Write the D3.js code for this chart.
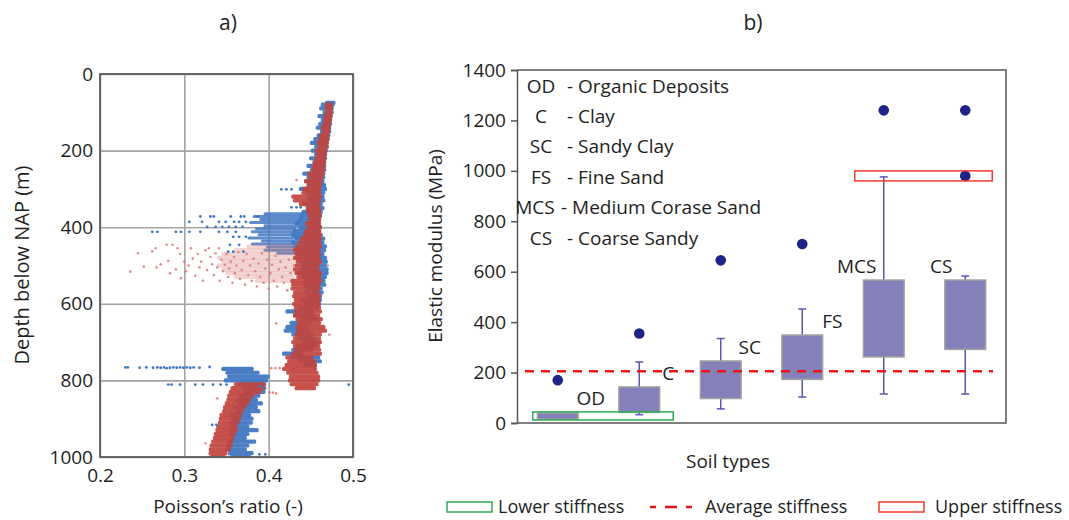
<!DOCTYPE html>
<html><head><meta charset="utf-8">
<script src="https://cdn.jsdelivr.net/npm/d3@7"></script>
<style>
body{margin:0;background:#fff;}
text{font-family:"Open Sans",sans-serif;fill:#1e1e1e;}
</style>
</head><body>
<svg id="chart" width="1069" height="520"></svg>
<script>
// ---------- a) Poisson's ratio profile ----------
const poissonTicks = [0.2, 0.3, 0.4, 0.5];
const depthTicks = [0, 200, 400, 600, 800, 1000];

// dense bands: [depth (m), min ratio, max ratio]
const blueUpper = [[75,.468,.478],[80,.463,.477],[90,.461,.476],[100,.465,.476],[110,.459,.475],[120,.463,.474],[130,.460,.474],[140,.457,.473],[150,.462,.473],[160,.458,.472],[170,.454,.471],[180,.450,.470],[190,.455,.470],[200,.451,.469],[210,.455,.468],[220,.449,.468],[230,.453,.467],[240,.446,.467],[250,.450,.467],[260,.441,.466],[270,.446,.466],[280,.443,.465],[290,.447,.467],[300,.437,.468],[310,.444,.466],[320,.447,.465],[330,.446,.466],[340,.442,.463],[350,.446,.465],[360,.440,.463],[370,.438,.462],[380,.436,.461],[390,.432,.460],[400,.436,.462],[410,.430,.461],[420,.428,.463],[430,.432,.466],[440,.428,.465],[450,.430,.468],[460,.432,.467],[470,.434,.465],[480,.434,.468],[490,.437,.469],[500,.440,.468],[510,.438,.470],[520,.435,.470],[530,.440,.468],[540,.443,.466],[550,.442,.467],[560,.444,.463],[570,.442,.464],[580,.446,.462],[590,.438,.462],[600,.443,.461],[610,.436,.458],[620,.421,.452],[630,.430,.454],[640,.440,.457],[650,.426,.450],[660,.421,.446],[670,.419,.447],[680,.428,.452],[690,.436,.455],[700,.440,.459],[710,.434,.456],[720,.428,.452],[730,.417,.440],[740,.426,.460],[750,.436,.462],[760,.442,.456]];
const blueCloud = [[365,.395,.440],[372,.382,.440],[380,.390,.438],[388,.378,.436],[396,.395,.436],[404,.385,.432],[412,.380,.430],[420,.388,.430],[428,.376,.432],[436,.392,.430],[444,.380,.430],[452,.398,.432],[460,.395,.432],[468,.410,.434]];
const blueLower = [[770,.345,.381],[780,.350,.388],[790,.352,.400],[800,.348,.398],[810,.365,.396],[820,.369,.392],[830,.372,.395],[840,.366,.389],[850,.362,.386],[860,.364,.392],[870,.359,.386],[880,.362,.389],[890,.355,.378],[900,.357,.381],[910,.353,.380],[920,.356,.376],[930,.354,.387],[940,.353,.376],[950,.356,.373],[960,.352,.384],[970,.350,.376],[980,.349,.373],[990,.353,.381],[1000,.355,.378]];
const redUpper = [[80,.468,.475],[90,.467,.475],[100,.468,.475],[110,.466,.474],[120,.466,.474],[130,.465,.473],[140,.463,.472],[150,.464,.472],[160,.461,.471],[170,.460,.471],[180,.458,.470],[190,.459,.470],[200,.456,.468],[210,.457,.468],[220,.455,.467],[230,.454,.467],[240,.452,.466],[250,.452,.466],[260,.447,.465],[270,.448,.464],[280,.443,.463],[290,.446,.462],[300,.441,.461],[310,.440,.461],[320,.428,.462],[330,.430,.461],[340,.437,.460],[350,.445,.461],[360,.446,.461],[370,.447,.462],[380,.448,.461],[390,.444,.461],[400,.446,.462],[410,.443,.461],[420,.442,.462],[430,.438,.462],[440,.436,.461],[450,.433,.462],[460,.430,.460],[470,.432,.461],[480,.430,.460],[490,.433,.462],[500,.432,.460],[510,.430,.459],[520,.432,.462],[530,.434,.461],[540,.427,.462],[550,.428,.460],[560,.427,.460],[570,.430,.459],[580,.429,.461],[590,.431,.460],[600,.429,.460],[610,.431,.461],[620,.432,.462],[630,.430,.460],[640,.433,.463],[650,.435,.461],[660,.433,.466],[670,.434,.468],[680,.432,.462],[690,.430,.461],[700,.428,.462],[710,.430,.460],[720,.431,.461],[730,.428,.462],[740,.421,.452],[750,.423,.455],[760,.420,.456],[770,.417,.456],[780,.422,.458],[790,.425,.460],[800,.424,.460],[810,.426,.458],[820,.432,.455]];
const redLower = [[810,.360,.395],[820,.356,.396],[830,.354,.390],[840,.352,.382],[850,.351,.378],[860,.349,.376],[870,.347,.372],[880,.346,.369],[890,.343,.367],[900,.342,.366],[910,.341,.364],[920,.339,.362],[930,.338,.362],[940,.336,.360],[950,.335,.358],[960,.333,.357],[970,.331,.356],[980,.330,.354],[990,.330,.350],[1000,.331,.348]];
const redCloud = [[450,.375,.430],[460,.360,.432],[470,.345,.430],[480,.340,.432],[490,.345,.430],[500,.340,.432],[510,.345,.430],[520,.350,.432],[530,.360,.430],[540,.385,.428]];

// scattered readings: [ratio, depth (m)]
const blueDots = [[.415,301],[.421,301],[.427,301],[.427,348],[.433,348],[.438,348],
  [.319,372],[.331,372],[.335,372],[.355,372],[.367,372],[.371,372],[.387,372],
  [.306,386],[.321,386],[.341,386],[.349,386],[.359,386],[.365,386],[.373,386],
  [.327,399],[.337,399],[.345,399],[.353,399],[.361,399],[.369,399],
  [.262,412],[.268,412],[.290,412],[.296,412],[.306,412],[.319,412],[.341,412],[.351,412],[.361,412],
  [.358,425],[.365,425],[.373,425],[.354,446],[.365,446],[.352,464],[.358,464],[.370,464],
  [.230,766],[.233,766],[.247,767],[.255,766],[.263,767],[.268,766],[.272,767],[.276,766],[.279,768],[.283,767],[.287,766],[.291,767],[.295,766],[.299,767],[.303,766],[.307,767],[.311,766],[.318,767],[.330,765],
  [.281,811],[.285,811],[.295,811],[.313,811],[.322,811],[.334,811],[.343,811],[.350,811],[.495,811],
  [.389,993],[.396,993],[.333,916],[.338,916],[.390,815],[.395,820]];
const redDots = [[.433,277],[.403,768],[.408,768],[.413,768],[.401,832],[.405,832],[.409,834],[.409,651],[.472,681],[.339,847],[.325,964],[.470,500],
  [.236,516],[.245,468],[.252,503],[.262,463],[.266,455],[.267,505],[.272,497],[.279,446],[.281,488],[.283,520],[.286,446],[.290,510],[.292,455],[.295,470],[.296,533],[.300,490],[.302,515],[.305,500],[.308,455],[.310,482],[.313,527],[.316,470],[.318,505],[.320,490],[.322,540],[.325,460],[.327,512],[.329,455],[.331,478],[.333,497],[.335,525],[.337,468],[.339,505],[.341,455],[.342,540],[.344,485],[.346,515],[.348,498],[.350,470],[.352,530],[.353,508],[.355,490],[.357,545],[.359,478],[.360,520],[.362,500],[.364,465],[.366,535],[.368,512],[.370,488],[.372,550],[.374,470],[.376,525],[.378,500],[.380,540],[.382,482],[.384,515],[.386,555],[.388,495],[.390,530],[.392,468],[.394,545],[.396,508],[.398,485],[.400,560],[.402,520],[.404,498],[.406,540],[.408,475],[.410,555],[.412,510],[.414,490],[.416,530],[.418,545],[.420,505],[.422,565],[.424,485],[.426,520],[.428,550],[.430,500]];

// ---------- b) Elastic modulus by soil type ----------
const soilTypes = ["OD", "C", "SC", "FS", "MCS", "CS"];
const soilNames = ["Organic Deposits", "Clay", "Sandy Clay", "Fine Sand", "Medium Corase Sand", "Coarse Sandy"];
const q1 = [15, 42, 97, 173, 262, 292];
const q3 = [40, 143, 246, 349, 567, 567];
const whiskerLow = [15, 33, 56, 103, 115, 115];
const whiskerHigh = [40, 242, 335, 452, 976, 583];
const outliers = [[170], [355], [645], [710], [1240], [1240, 980]];
const modulusTicks = [0, 200, 400, 600, 800, 1000, 1200, 1400];
const lowerStiffness = [12, 44];
const averageStiffness = 205;
const upperStiffness = [960, 1000];

const svg = d3.select("#chart");
const BLUE = "#4177c2", RED = "#c2433e", PINK = "#d97b78";
const FS = 19;

// ===== Panel a =====
const xL = d3.scaleLinear().domain([0.2, 0.5]).range([100, 353]);
const yL = d3.scaleLinear().domain([0, 1000]).range([74, 457]);
const gA = svg.append("g");

gA.append("g").attr("transform", `translate(${xL(0.2)},0)`)
  .call(d3.axisLeft(yL).tickValues(depthTicks).tickSize(-(xL(0.5) - xL(0.2))).tickPadding(7).tickFormat(d3.format("d")))
  .call(g => g.select(".domain").remove())
  .call(g => g.selectAll("line").attr("stroke", "#a3a3a3").attr("stroke-width", 1.6))
  .call(g => g.selectAll("text").attr("font-size", FS).attr("font-family", "Open Sans").attr("fill", "#1e1e1e"));
gA.append("g").attr("transform", `translate(0,${yL(1000)})`)
  .call(d3.axisBottom(xL).tickValues(poissonTicks).tickSize(-(yL(1000) - yL(0))).tickPadding(12).tickFormat(d3.format(".1f")))
  .call(g => g.select(".domain").remove())
  .call(g => g.selectAll("line").attr("stroke", "#a3a3a3").attr("stroke-width", 1.6))
  .call(g => g.selectAll("text").attr("font-size", FS).attr("font-family", "Open Sans").attr("fill", "#1e1e1e"));

svg.append("clipPath").attr("id", "clipA").append("rect")
  .attr("x", xL(0.2)).attr("y", yL(0)).attr("width", xL(0.5) - xL(0.2)).attr("height", yL(1000) - yL(0));
const plotA = gA.append("g").attr("clip-path", "url(#clipA)");

function bandRows(rows, color, opacity, h) {
  plotA.append("g").selectAll("rect").data(rows).join("rect")
    .attr("x", d => xL(d[1]) - 1)
    .attr("width", d => xL(d[2]) - xL(d[1]) + 2)
    .attr("y", d => yL(d[0]) - h / 2)
    .attr("height", h)
    .attr("rx", 1.5)
    .attr("fill", color).attr("fill-opacity", opacity);
}
function dots(pts, color, r, opacity) {
  plotA.append("g").selectAll("circle").data(pts).join("circle")
    .attr("cx", d => xL(d[0])).attr("cy", d => yL(d[1])).attr("r", r)
    .attr("fill", color).attr("fill-opacity", opacity);
}
bandRows(blueUpper, BLUE, 0.95, 4.2);
bandRows(blueCloud, BLUE, 0.85, 3);
bandRows(blueLower, BLUE, 0.95, 4.2);
bandRows(redCloud, PINK, 0.33, 4.2);
dots(redDots, PINK, 1.3, 0.85);
bandRows(redUpper, RED, 0.92, 4.2);
bandRows(redLower, RED, 0.92, 4.2);
dots(blueDots, BLUE, 1.4, 1);

gA.append("rect").attr("x", xL(0.2)).attr("y", yL(0))
  .attr("width", xL(0.5) - xL(0.2)).attr("height", yL(1000) - yL(0))
  .attr("fill", "none").attr("stroke", "#5e5e5e").attr("stroke-width", 1.8);

svg.append("text").attr("x", 228).attr("y", 30).attr("text-anchor", "middle").attr("font-size", 21).text("a)");
svg.append("text").attr("x", 228).attr("y", 513).attr("text-anchor", "middle").attr("font-size", FS).text("Poisson’s ratio (-)");
svg.append("text").attr("transform", "translate(29,265) rotate(-90)").attr("text-anchor", "middle").attr("font-size", 20).text("Depth below NAP (m)");

// ===== Panel b =====
const yR = d3.scaleLinear().domain([0, 1400]).range([423, 70]);
const xR = d3.scaleBand().domain(soilTypes).range([517, 1006]).paddingInner(0.5).paddingOuter(0.25);
const bw = xR.bandwidth();
const cx = t => xR(t) + bw / 2;
const gB = svg.append("g");

gB.append("g").attr("transform", "translate(517,0)")
  .call(d3.axisLeft(yR).tickValues(modulusTicks).tickSize(6).tickPadding(5).tickFormat(d3.format("d")))
  .call(g => g.selectAll("line, path").attr("stroke", "#555").attr("stroke-width", 1.5))
  .call(g => g.selectAll("text").attr("font-size", FS).attr("font-family", "Open Sans").attr("fill", "#1e1e1e"));
gB.append("path").attr("d", `M517,${yR(1400)}H1006V${yR(0)}H517`)
  .attr("fill", "none").attr("stroke", "#555").attr("stroke-width", 1.5);

// soil type key
const key = gB.append("g");
soilTypes.forEach((t, i) => {
  const y = 86 + i * 30.4;
  const wide = t.length > 2;
  key.append("text").attr("x", wide ? 535 : 541).attr("y", y).attr("dy", "0.35em").attr("text-anchor", "middle").attr("font-size", FS).text(t);
  key.append("text").attr("x", wide ? 561 : 567).attr("y", y).attr("dy", "0.35em").attr("font-size", FS).text("- " + soilNames[i]);
});

// whiskers
const WHISK = "#5656b4";
soilTypes.forEach((t, i) => {
  const x = cx(t);
  const g = gB.append("g").attr("stroke", WHISK).attr("stroke-width", 1.5);
  if (whiskerHigh[i] > q3[i]) {
    g.append("line").attr("x1", x).attr("x2", x).attr("y1", yR(q3[i])).attr("y2", yR(whiskerHigh[i]));
    g.append("line").attr("x1", x - 4).attr("x2", x + 4).attr("y1", yR(whiskerHigh[i])).attr("y2", yR(whiskerHigh[i]));
  }
  if (whiskerLow[i] < q1[i]) {
    g.append("line").attr("x1", x).attr("x2", x).attr("y1", yR(q1[i])).attr("y2", yR(whiskerLow[i]));
    g.append("line").attr("x1", x - 4).attr("x2", x + 4).attr("y1", yR(whiskerLow[i])).attr("y2", yR(whiskerLow[i]));
  }
});
// boxes
gB.append("g").selectAll("rect").data(soilTypes).join("rect")
  .attr("x", t => xR(t)).attr("width", bw)
  .attr("y", (t, i) => yR(q3[i])).attr("height", (t, i) => yR(q1[i]) - yR(q3[i]))
  .attr("fill", "#8480b9").attr("stroke", "#a2a2a2").attr("stroke-width", 1.5);
// outliers
soilTypes.forEach((t, i) => {
  gB.append("g").selectAll("circle").data(outliers[i]).join("circle")
    .attr("cx", cx(t)).attr("cy", v => yR(v)).attr("r", 5.3).attr("fill", "#1f2385");
});

// stiffness reference bands
gB.append("rect").attr("x", cx("OD") - 25).attr("width", cx("C") + 34 - (cx("OD") - 25))
  .attr("y", yR(lowerStiffness[1])).attr("height", yR(lowerStiffness[0]) - yR(lowerStiffness[1]))
  .attr("fill", "none").attr("stroke", "#2eaa55").attr("stroke-width", 1.5);
gB.append("line").attr("x1", 525).attr("x2", 993).attr("y1", yR(averageStiffness)).attr("y2", yR(averageStiffness))
  .attr("stroke", "#e8161b").attr("stroke-width", 2.6).attr("stroke-dasharray", "9,7");
gB.append("rect").attr("x", cx("MCS") - 29).attr("width", cx("CS") + 27 - (cx("MCS") - 29))
  .attr("y", yR(upperStiffness[1])).attr("height", yR(upperStiffness[0]) - yR(upperStiffness[1]))
  .attr("fill", "none").attr("stroke", "#ef3b2c").attr("stroke-width", 1.5);

// labels beside boxes
const labelDx = { OD: 33, C: 29, SC: 29, FS: 30, MCS: -27, CS: -24 };
soilTypes.forEach((t, i) => {
  const dy = t === "OD" ? -15 : -14;
  gB.append("text").attr("x", cx(t) + labelDx[t]).attr("y", yR(q3[i]) + dy)
    .attr("dy", "0.35em").attr("text-anchor", "middle").attr("font-size", FS).text(t);
});

svg.append("text").attr("x", 753).attr("y", 30).attr("text-anchor", "middle").attr("font-size", 21).text("b)");
svg.append("text").attr("x", 728).attr("y", 468).attr("text-anchor", "middle").attr("font-size", FS).text("Soil types");
svg.append("text").attr("transform", "translate(442,246) rotate(-90)").attr("text-anchor", "middle").attr("font-size", FS).text("Elastic modulus (MPa)");

// bottom legend
const LFS = 18;
const lg = svg.append("g");
lg.append("rect").attr("x", 447).attr("y", 502).attr("width", 45).attr("height", 10)
  .attr("fill", "none").attr("stroke", "#2eaa55").attr("stroke-width", 1.5);
lg.append("text").attr("x", 498).attr("y", 507).attr("dy", "0.35em").attr("font-size", LFS).text("Lower stiffness");
lg.append("line").attr("x1", 650).attr("x2", 696).attr("y1", 507).attr("y2", 507)
  .attr("stroke", "#e8161b").attr("stroke-width", 2.6).attr("stroke-dasharray", "6,9,12,9,6");
lg.append("text").attr("x", 705).attr("y", 507).attr("dy", "0.35em").attr("font-size", LFS).text("Average stiffness");
lg.append("rect").attr("x", 879).attr("y", 502).attr("width", 45).attr("height", 10)
  .attr("fill", "none").attr("stroke", "#ef3b2c").attr("stroke-width", 1.5);
lg.append("text").attr("x", 935).attr("y", 507).attr("dy", "0.35em").attr("font-size", LFS).text("Upper stiffness");
</script>
</body></html>
